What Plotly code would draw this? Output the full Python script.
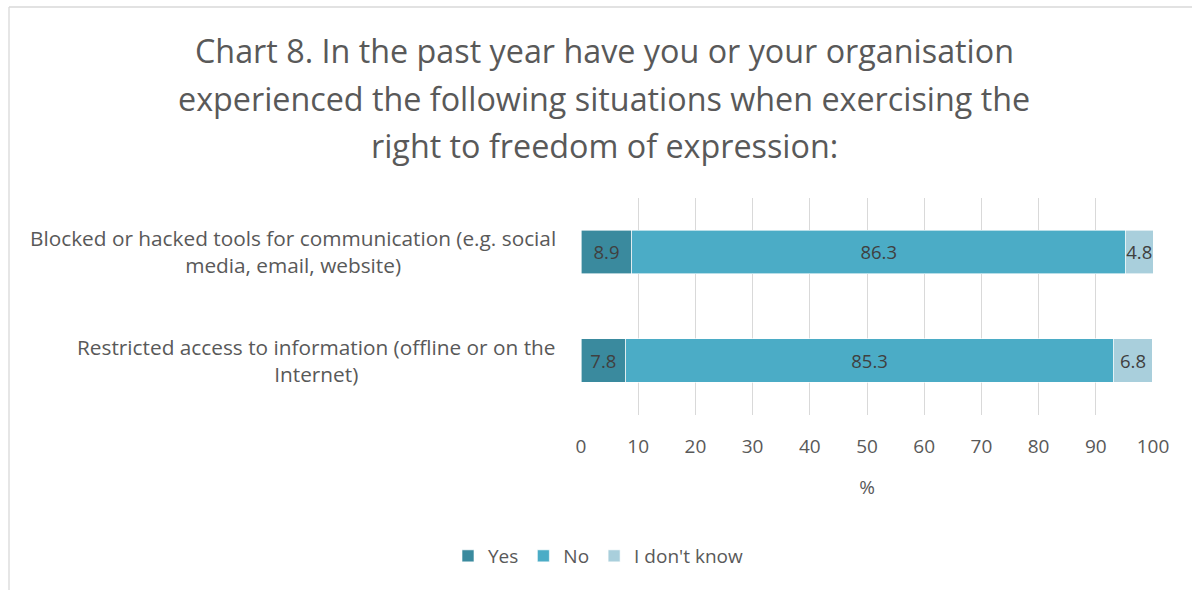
import plotly.graph_objects as go

W, H = 1192, 590

# Survey categories (top to bottom) and the share of answers per series, in %
categories = [
    "Blocked or hacked tools for communication (e.g. social<br>media, email, website)",
    "Restricted access to information (offline or on the<br>Internet)",
]
series_names = ["Yes", "No", "I don't know"]
yes_vals = [8.9, 7.8]
no_vals = [86.3, 85.3]
dont_know_vals = [4.8, 6.8]
x_ticks = [0, 10, 20, 30, 40, 50, 60, 70, 80, 90, 100]

title_lines = [
    "Chart 8. In the past year have you or your organisation",
    "experienced the following situations when exercising the",
    "right to freedom of expression:",
]

colors = ["#3A8A9E", "#4BACC6", "#A9CFDC"]
FONT = "Open Sans"
GREY = "#595959"

fig = go.Figure()
for name, vals, col in zip(series_names, [yes_vals, no_vals, dont_know_vals], colors):
    fig.add_trace(go.Bar(
        y=categories, x=vals, name=name, orientation="h",
        marker=dict(color=col, line=dict(color="white", width=0.6)),
        text=[f"{v:.1f}" for v in vals], textposition="inside",
        insidetextanchor="middle", textangle=0, constraintext="none",
        textfont=dict(family=FONT, size=18.5, color="#404040"),
    ))

# plot-area placement in pixels
x0, x1 = 581, 1153
y_top, y_bot = 197.5, 415

fig.update_layout(
    width=W, height=H,
    margin=dict(l=0, r=0, t=0, b=0),
    paper_bgcolor="white", plot_bgcolor="white",
    barmode="stack", bargap=0.6,
    uniformtext=dict(minsize=18.5, mode="show"),
    font=dict(family=FONT, color=GREY),
    xaxis=dict(
        domain=[x0 / W, x1 / W], range=[0, 100], tickvals=x_ticks,
        showgrid=True, gridcolor="#D9D9D9", gridwidth=1.3,
        zeroline=False, showline=False, ticks="",
        ticklabelstandoff=18,
        tickfont=dict(family=FONT, size=19, color=GREY),
        title=dict(text="%", font=dict(family=FONT, size=19, color=GREY), standoff=22),
        automargin=False, fixedrange=True,
    ),
    yaxis=dict(
        domain=[1 - y_bot / H, 1 - y_top / H],
        autorange="reversed", showticklabels=False, showgrid=False,
        zeroline=False, automargin=False, fixedrange=True,
    ),
    legend=dict(
        orientation="h", x=598 / W, xanchor="center", y=1 - 556 / H, yanchor="middle",
        font=dict(family=FONT, size=19, color=GREY), traceorder="normal",
        itemwidth=30,
    ),
    showlegend=True,
)

# chart title, one line per annotation
for line, ypx in zip(title_lines, [50, 98, 145]):
    fig.add_annotation(
        x=604 / W, xref="paper", xanchor="center",
        y=1 - ypx / H, yref="paper", yanchor="middle",
        text=line, showarrow=False,
        font=dict(family=FONT, size=32.3, color=GREY),
    )

# category labels, centred text placed left of the axis
for cat in categories:
    fig.add_annotation(
        x=x0 / W - 23 / W, xref="paper", xanchor="right",
        y=cat, yref="y", yanchor="middle",
        text=cat, showarrow=False, align="center",
        font=dict(family=FONT, size=20.8, color=GREY),
    )

# chart frame edges
fig.add_shape(type="line", xref="paper", yref="paper",
              x0=9 / W, x1=9 / W, y0=0, y1=1 - 7 / H,
              line=dict(color="#D9D9D9", width=1.3))
fig.add_shape(type="line", xref="paper", yref="paper",
              x0=9 / W, x1=1, y0=1 - 7 / H, y1=1 - 7 / H,
              line=dict(color="#D9D9D9", width=1.3))

fig.write_html("out.html")
